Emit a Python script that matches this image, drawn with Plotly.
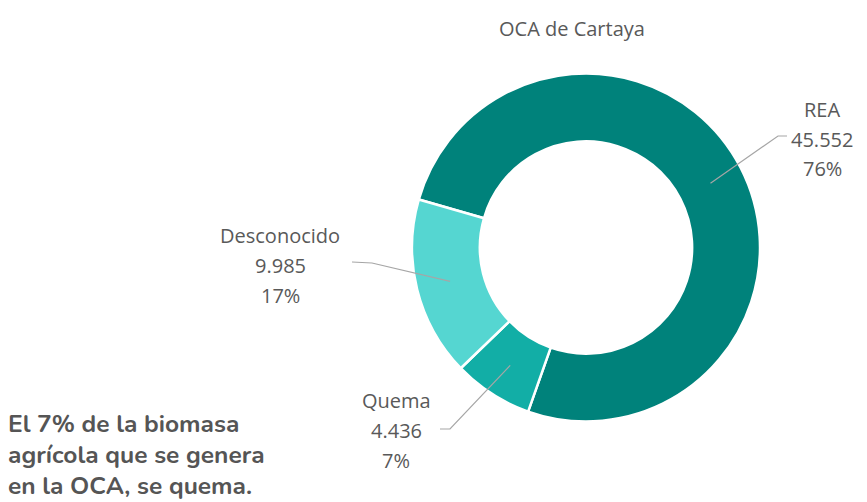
import math
import plotly.graph_objects as go

# Slice data
categories = ["REA", "Quema", "Desconocido"]
values = [45552, 4436, 9985]
value_labels = ["45.552", "4.436", "9.985"]
colors = ["#00827B", "#12AEA6", "#55D6D1"]

title_text = "OCA de Cartaya"
note_lines = ["El 7% de la biomasa", "agrícola que se genera", "en la OCA, se quema."]

# Canvas geometry (pixels)
W, H = 867, 502
CX, CY = 586.0, 247.5      # donut centre, y measured from the top
R = 174.0                  # outer radius
HOLE = 0.61
ROTATION = -74             # first slice starts 74 deg left of 12 o'clock

# label placement: (text centre x, middle-line y, line end x, line end y, elbow x, elbow y)
label_layout = {
    "REA":         (822, 139, 787, 136, 778, 136),
    "Quema":       (396, 430, 440, 429, 450, 429),
    "Desconocido": (280, 265, 352, 262, 372, 263),
}

TEXT_COLOR = "#595959"
LINE_COLOR = "#A6A6A6"
LABEL_FONT = dict(family="Open Sans", size=20, color=TEXT_COLOR)


def px(x):
    return x / W


def py(y):
    return 1 - y / H


fig = go.Figure()
fig.add_trace(go.Pie(
    labels=categories,
    values=values,
    hole=HOLE,
    sort=False,
    direction="clockwise",
    rotation=ROTATION,
    marker=dict(colors=colors, line=dict(color="white", width=2.5)),
    textinfo="none",
    hoverinfo="label+value+percent",
    showlegend=False,
    domain=dict(x=[px(CX - R), px(CX + R)], y=[py(CY + R), py(CY - R)]),
))

total = sum(values)
start_deg = 90 - ROTATION
mid_r = R * (1 + HOLE) / 2
shapes = []
annotations = []
cum = 0.0
for cat, val, vlab in zip(categories, values, value_labels):
    mid = math.radians(start_deg - 360 * (cum + val / 2) / total)
    cum += val
    sx = CX + mid_r * math.cos(mid)
    sy = CY - mid_r * math.sin(mid)
    tx, ty, ex, ey, bx, by = label_layout[cat]
    path = f"M {px(sx)} {py(sy)} L {px(bx)} {py(by)} L {px(ex)} {py(ey)}"
    shapes.append(dict(type="path", xref="paper", yref="paper", path=path,
                       line=dict(color=LINE_COLOR, width=1.2)))
    pct = f"{round(100 * val / total)}%"
    for k, line in enumerate([cat, vlab, pct]):
        annotations.append(dict(
            text=line, x=px(tx), y=py(ty + (k - 1) * 30),
            xref="paper", yref="paper", xanchor="center", yanchor="middle",
            showarrow=False, font=LABEL_FONT,
        ))

annotations.append(dict(
    text=title_text, x=px(572), y=py(29), xref="paper", yref="paper",
    xanchor="center", yanchor="middle", showarrow=False, font=LABEL_FONT,
))

for k, line in enumerate(note_lines):
    annotations.append(dict(
        text=f"<b>{line}</b>", x=px(6), y=py(424 + k * 31),
        xref="paper", yref="paper", xanchor="left", yanchor="middle",
        showarrow=False,
        font=dict(family="Nunito, Lato, sans-serif", size=24.5, color="#555555"),
    ))

fig.update_layout(
    width=W, height=H,
    margin=dict(l=0, r=0, t=0, b=0),
    paper_bgcolor="white", plot_bgcolor="white",
    shapes=shapes, annotations=annotations,
)

fig.write_html("out.html")
